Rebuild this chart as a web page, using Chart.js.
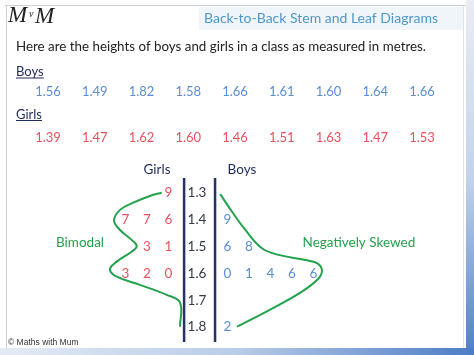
<!DOCTYPE html>
<html><head><meta charset="utf-8">
<script src="https://cdn.jsdelivr.net/npm/chart.js@4"></script>
<style>html,body{margin:0;padding:0;background:#fff;overflow:hidden}canvas{display:block}</style>
</head><body><canvas id="c" width="474" height="355"></canvas>
<script>
// ---- data ----
const boys  = [1.56, 1.49, 1.82, 1.58, 1.66, 1.61, 1.60, 1.64, 1.66];
const girls = [1.39, 1.47, 1.62, 1.60, 1.46, 1.51, 1.63, 1.47, 1.53];
const stems = [1.3, 1.4, 1.5, 1.6, 1.7, 1.8];
// shape sketches (x: leaf-column units, y: height)
const bimodalCurve = [
  {x:-1.64,y:1.299},{x:-2.19,y:1.311},{x:-2.96,y:1.336},{x:-3.58,y:1.363},{x:-3.86,y:1.403},
  {x:-3.58,y:1.438},{x:-3.04,y:1.475},{x:-2.80,y:1.498},{x:-3.04,y:1.519},{x:-3.73,y:1.556},
  {x:-4.05,y:1.585},{x:-3.73,y:1.612},{x:-2.65,y:1.643},{x:-1.41,y:1.680},{x:-0.79,y:1.709},
  {x:-0.79,y:1.799}
];
const skewedCurve = [
  {x:1.08,y:1.304},{x:1.63,y:1.370},{x:2.25,y:1.438},{x:3.02,y:1.506},{x:3.80,y:1.531},
  {x:5.04,y:1.550},{x:5.58,y:1.562},{x:5.81,y:1.587},{x:5.66,y:1.618},{x:4.88,y:1.668},
  {x:3.49,y:1.731},{x:1.86,y:1.799}
];

// ---- layout constants ----
const FONT = 'Lato, "Open Sans", sans-serif';
const NAVY = '#1f2a5c', BLUE = '#5b8dd2', RED = '#e8515e', GREEN = '#22a24c', STEMC = '#343848';
const PXU = 21.5, STEMPX = 197, Y0 = 193, PXV = 268; // px per unit / per 1.0 m
const GIRL_OFF = 1.33, BOY_OFF = 1.42;

function leavesOf(arr, stem){
  return arr.filter(v => Math.floor(Math.round(v*100)/10) === Math.round(stem*10))
            .map(v => Math.round(v*100) % 10).sort((a,b)=>a-b);
}
const girlPts = [], boyPts = [], stemPts = [];
stems.forEach(s => {
  stemPts.push({x:0, y:s, t:s.toFixed(1)});
  leavesOf(girls, s).forEach((l,k) => girlPts.push({x:-(k+GIRL_OFF), y:s, t:String(l)}));
  leavesOf(boys, s).forEach((l,k) => boyPts.push({x:(k+BOY_OFF), y:s, t:String(l)}));
});
const yTop = stems[0] - 0.056, yBot = stems[stems.length-1] + 0.056;
const labels = [
  {x:-1.86, y:stems[0]-0.089, t:'Girls', c:NAVY},
  {x:2.09, y:stems[0]-0.089, t:'Boys', c:NAVY},
  {x:-5.44, y:1.487, t:'Bimodal', c:GREEN},
  {x:7.53, y:1.487, t:'Negatively Skewed', c:GREEN}
];

function textDs(pts, color){
  return {data:pts, textColor:color, pointRadius:0, showLine:false, isText:true};
}
function lineDs(pts, color, w, tension){
  return {data:pts, borderColor:color, borderWidth:w, pointRadius:0, showLine:true, tension:tension, fill:false};
}

const framePlugin = {
  id:'frame',
  beforeDraw(chart){
    const c = chart.ctx; c.save();
    c.fillStyle = '#fff'; c.fillRect(0,0,474,355);
    // right strip
    let g = c.createLinearGradient(0,0,0,355);
    g.addColorStop(0,'#e9edf3'); g.addColorStop(0.5,'#c3d3ea'); g.addColorStop(1,'#4f80c8');
    c.fillStyle = g; c.fillRect(466,0,8,355);
    // bottom strip
    g = c.createLinearGradient(0,0,474,0);
    g.addColorStop(0,'#e4ebf5'); g.addColorStop(0.5,'#b9cce8'); g.addColorStop(1,'#4b7cc6');
    c.fillStyle = g; c.fillRect(0,348,474,7);
    // frame lines
    c.strokeStyle = '#cdd2da'; c.lineWidth = 1;
    c.beginPath(); c.moveTo(5,5.5); c.lineTo(466,5.5); c.moveTo(6.5,5); c.lineTo(6.5,348); c.stroke();
    c.strokeStyle = '#dfe4ea';
    c.beginPath(); c.moveTo(463.5,6); c.lineTo(463.5,348); c.stroke();
    // title box
    c.fillStyle = '#f0f5fa'; c.fillRect(199,7,264,23);
    c.fillStyle = '#4f98cb'; c.font = '14px ' + FONT; c.textBaseline = 'middle'; c.textAlign='left';
    c.fillText('Back-to-Back Stem and Leaf Diagrams', 204, 18.5, 239);
    // logo
    c.fillStyle = '#222';
    c.font = 'italic 23px "Liberation Serif", serif'; c.fillText('M', 8, 16);
    c.font = 'italic 10px "Liberation Serif", serif'; c.fillText('v', 29, 14);
    c.font = 'italic 23px "Liberation Serif", serif'; c.fillText('M', 35, 17);
    // intro sentence
    c.fillStyle = '#222'; c.font = '14px ' + FONT;
    c.fillText('Here are the heights of boys and girls in a class as measured in metres.', 16, 46.5, 410);
    // row labels
    c.fillStyle = NAVY; c.font = '13px ' + FONT;
    [['Boys',72,77.5],['Girls',114.5,120]].forEach(([t,y,u])=>{
      c.fillText(t,16,y); const w = c.measureText(t).width;
      c.fillRect(16,u,w,1);
    });
    // raw values
    c.textAlign = 'center'; c.font = '13px ' + FONT;
    boys.forEach((v,i)=>{ c.fillStyle = BLUE; c.fillText(v.toFixed(2), 48 + i*46.75, 92); });
    girls.forEach((v,i)=>{ c.fillStyle = RED; c.fillText(v.toFixed(2), 48 + i*46.75, 138); });
    // footer
    c.textAlign = 'left'; c.fillStyle = '#333'; c.font = '8.5px "Liberation Sans", Arial, sans-serif';
    c.fillText('\u00a9 Maths with Mum', 8, 343);
    c.restore();
  },
  afterDatasetsDraw(chart){
    const c = chart.ctx; c.save();
    c.textAlign = 'center'; c.textBaseline = 'middle';
    chart.data.datasets.forEach((ds,i)=>{
      if(!ds.isText) return;
      const meta = chart.getDatasetMeta(i);
      c.fillStyle = ds.textColor; c.font = (ds.fontSize||13.5) + 'px ' + FONT;
      meta.data.forEach((el,j)=>{ const p = ds.data[j]; c.fillStyle = p.c || ds.textColor; c.fillText(p.t, el.x, el.y); });
    });
    c.restore();
  }
};

const datasets = [
  lineDs([{x:-0.6,y:yTop},{x:-0.6,y:yBot}], '#28306a', 2.5, 0),
  lineDs([{x:0.84,y:yTop},{x:0.84,y:yBot}], '#28306a', 2.5, 0),
  lineDs(bimodalCurve, GREEN, 2, 0.4),
  lineDs(skewedCurve, GREEN, 2, 0.4),
  textDs(girlPts, RED),
  textDs(boyPts, BLUE),
  textDs(stemPts, STEMC),
  Object.assign(textDs(labels, NAVY), {fontSize:13.5})
];

new Chart(document.getElementById('c'), {
  type:'scatter',
  data:{datasets},
  options:{
    responsive:false, animation:false, devicePixelRatio:1, events:[],
    layout:{padding:0},
    plugins:{legend:{display:false}, tooltip:{enabled:false}, title:{display:false}},
    scales:{
      x:{type:'linear', display:false, min:-STEMPX/PXU, max:(474-STEMPX)/PXU},
      y:{type:'linear', display:false, reverse:true, min:1.3 - Y0/PXV, max:1.3 + (355-Y0)/PXV}
    }
  },
  plugins:[framePlugin]
});
</script></body></html>
